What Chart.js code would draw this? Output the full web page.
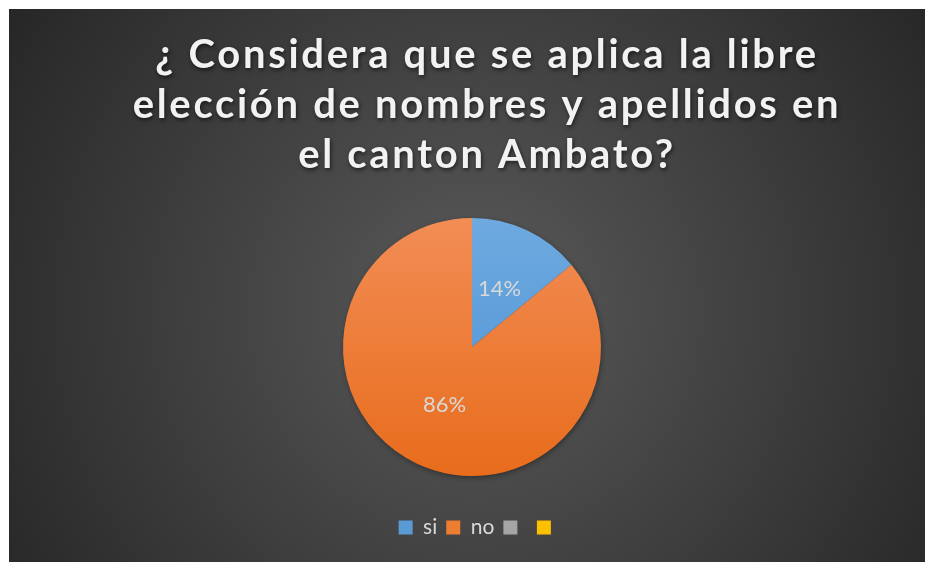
<!DOCTYPE html>
<html><head><meta charset="utf-8">
<script src="https://cdn.jsdelivr.net/npm/chart.js@4.4.1/dist/chart.umd.min.js"></script>
<style>html,body{margin:0;padding:0;background:#fff;overflow:hidden}
#wrap{position:absolute;left:0;top:0;width:926px;height:562px}</style>
</head><body><div id="wrap"><canvas id="c"></canvas></div>
<script>
// ---- data ----
const titleLines = ['¿ Considera que se aplica la libre', 'elección de nombres y apellidos en', 'el canton Ambato?'];
const categories = ['si', 'no', '', ''];
const values = [14, 86, 0, 0];

// ---- styles ----
const baseColors = ['#5b9bd5', '#ed7d31', '#a5a5a5', '#ffc000'];
const gradStops = [['#6eaae0', '#4a8fd2'], ['#f28d55', '#e86c1c'], ['#b0b0b0', '#9a9a9a'], ['#ffc820', '#f5b800']];
const PIE_R = 129;

function sliceColor(ctx) {
  const chart = ctx.chart, ca = chart.chartArea, i = ctx.dataIndex;
  if (!ca || i === undefined) return baseColors[i] || baseColors[0];
  const cy = (ca.top + ca.bottom) / 2;
  const g = chart.ctx.createLinearGradient(0, cy - PIE_R, 0, cy + PIE_R);
  g.addColorStop(0, gradStops[i][0]);
  g.addColorStop(1, gradStops[i][1]);
  return g;
}

const bgPlugin = {
  id: 'bg',
  beforeDraw(chart) {
    const ctx = chart.ctx;
    ctx.save();
    ctx.fillStyle = '#ffffff';
    ctx.fillRect(0, 0, chart.width, chart.height);
    const g = ctx.createRadialGradient(475, 310, 0, 475, 310, 560);
    g.addColorStop(0, '#5a5a5a');
    g.addColorStop(1, '#262626');
    ctx.fillStyle = g;
    ctx.fillRect(9, 9, 916, 553);
    ctx.restore();
  }
};

function wrapDraw(chart, box, dx, style) {
  if (!box) return;
  const orig = box.draw.bind(box);
  box.draw = function () {
    const ctx = chart.ctx;
    ctx.save();
    ctx.translate(dx, 0);
    style(ctx);
    orig();
    ctx.restore();
  };
}

const boxStyle = {
  id: 'boxStyle',
  afterInit(chart) {
    wrapDraw(chart, chart.titleBlock, 15, (ctx) => {
      ctx.letterSpacing = '2.7px';
      ctx.shadowColor = 'rgba(0,0,0,0.6)';
      ctx.shadowBlur = 4;
      ctx.shadowOffsetX = 1;
      ctx.shadowOffsetY = 2;
    });
    wrapDraw(chart, chart.legend, 8, () => {});
  }
};

const shadowPlugin = {
  id: 'pieShadow',
  beforeDatasetsDraw(chart) {
    const meta = chart.getDatasetMeta(0);
    if (!meta.data.length) return;
    const a = meta.data[0];
    const ctx = chart.ctx;
    ctx.save();
    ctx.shadowColor = 'rgba(0,0,0,0.45)';
    ctx.shadowBlur = 6;
    ctx.shadowOffsetX = 1;
    ctx.shadowOffsetY = 2;
    ctx.fillStyle = '#3a3a3a';
    ctx.beginPath();
    ctx.arc(a.x, a.y, a.outerRadius - 1, 0, Math.PI * 2);
    ctx.fill();
    ctx.restore();
  }
};

const pctPlugin = {
  id: 'pct',
  afterDatasetsDraw(chart) {
    const ctx = chart.ctx;
    const meta = chart.getDatasetMeta(0);
    const data = chart.data.datasets[0].data;
    const total = data.reduce((a, b) => a + b, 0);
    ctx.save();
    ctx.font = '22px Lato';
    ctx.fillStyle = '#d9d9d9';
    ctx.textAlign = 'center';
    ctx.textBaseline = 'middle';
    meta.data.forEach((arc, i) => {
      const v = data[i];
      if (!v) return;
      const p = arc.getCenterPoint();
      ctx.fillText(Math.round(v / total * 100) + '%', p.x, p.y);
    });
    ctx.restore();
  }
};

function build() {
  new Chart(document.getElementById('c'), {
    type: 'pie',
    data: {
      labels: categories,
      datasets: [{
        data: values,
        backgroundColor: sliceColor,
        borderWidth: 0
      }]
    },
    plugins: [bgPlugin, boxStyle, shadowPlugin, pctPlugin],
    options: {
      responsive: true,
      maintainAspectRatio: false,
      animation: false,
      radius: PIE_R,
      layout: { padding: { top: 0, bottom: 14, left: 18, right: 0 } },
      plugins: {
        tooltip: { enabled: false },
        title: {
          display: true,
          text: titleLines,
          color: '#f2f2f2',
          font: { family: 'Lato', weight: 'bold', size: 40, lineHeight: 1.25 },
          padding: { top: 30, bottom: 6 }
        },
        legend: {
          position: 'bottom',
          labels: {
            color: '#d9d9d9',
            font: { family: 'Lato', size: 21 },
            boxWidth: 14,
            boxHeight: 14,
            padding: 9,
            generateLabels(chart) {
              const items = Chart.overrides.pie.plugins.legend.labels.generateLabels(chart);
              items.forEach((it, i) => { it.fillStyle = baseColors[i]; it.strokeStyle = baseColors[i]; it.lineWidth = 0; });
              return items;
            }
          }
        }
      }
    }
  });
}
Promise.all([document.fonts.load('bold 40px Lato'), document.fonts.load('22px Lato'), document.fonts.load('21px Lato')]).then(build, build);
</script>
</body></html>
